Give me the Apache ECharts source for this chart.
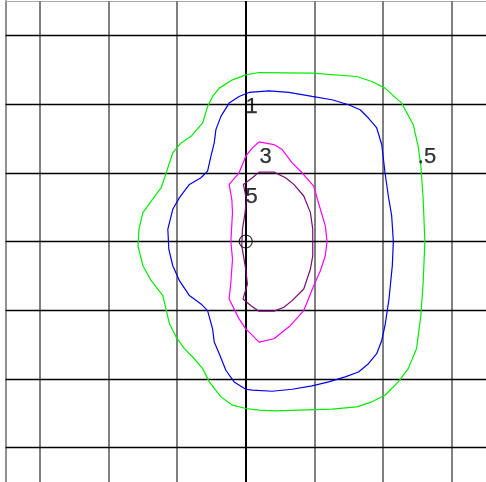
<!DOCTYPE html>
<html>
<head>
<meta charset="utf-8">
<script src="https://cdn.jsdelivr.net/npm/echarts@6/dist/echarts.min.js"></script>
<style>html,body{margin:0;padding:0;background:#fff}#c{width:486px;height:482px}</style>
</head>
<body>
<div id="c"></div>
<script>
// Grid tick positions (one grid cell = 1 unit)
const xTicks = [-3, -2, -1, 1, 2, 3];
const yTicks = [-3, -2, -1, 1, 2, 3];

// Contour levels and their polylines [x, y]
const level05 = [
  [0.193,2.459],[0.966,2.449],[1.618,2.401],[1.836,2.329],[2.029,2.232],[2.271,2.014],[2.440,1.700],
  [2.512,1.386],[2.551,1.097],[2.585,0.614],[2.609,0],[2.585,-0.594],[2.551,-1.077],[2.488,-1.560],
  [2.367,-1.850],[2.222,-2.043],[2.029,-2.237],[1.836,-2.333],[1.618,-2.406],[1.256,-2.440],
  [0.773,-2.454],[0.435,-2.464],[0.193,-2.454],[0,-2.430],[-0.193,-2.382],[-0.362,-2.261],
  [-0.531,-2.043],[-0.628,-1.850],[-0.773,-1.681],[-0.894,-1.560],[-1.014,-1.391],[-1.111,-1.198],
  [-1.208,-0.787],[-1.377,-0.570],[-1.498,-0.353],[-1.570,-0.063],[-1.556,0.179],[-1.498,0.420],
  [-1.377,0.589],[-1.232,0.783],[-1.159,1.000],[-1.063,1.290],[-0.942,1.435],[-0.797,1.531],
  [-0.628,1.725],[-0.556,1.966],[-0.483,2.111],[-0.386,2.232],[-0.193,2.353],[0,2.425],[0.193,2.459]
];
const level1 = [
  [-0.097,2.111],[0.048,2.169],[0.338,2.193],[0.628,2.169],[0.966,2.111],[1.256,2.063],[1.498,1.990],
  [1.667,1.918],[1.787,1.797],[1.908,1.652],[1.981,1.411],[2.029,1.000],[2.077,0.662],[2.126,0.372],
  [2.150,0],[2.135,-0.353],[2.087,-0.836],[2.029,-1.222],[1.981,-1.440],[1.908,-1.633],[1.787,-1.778],
  [1.643,-1.899],[1.449,-1.971],[1.208,-2.043],[0.966,-2.101],[0.676,-2.150],[0.386,-2.179],
  [0.097,-2.164],[0,-2.150],[-0.169,-2.043],[-0.290,-1.874],[-0.386,-1.633],[-0.459,-1.464],
  [-0.483,-1.271],[-0.556,-1.005],[-0.652,-0.908],[-0.821,-0.787],[-0.966,-0.570],[-1.063,-0.353],
  [-1.121,-0.111],[-1.135,0.179],[-1.063,0.469],[-0.966,0.638],[-0.821,0.831],[-0.652,0.928],
  [-0.556,1.024],[-0.507,1.242],[-0.459,1.435],[-0.435,1.628],[-0.362,1.821],[-0.242,2.014],[-0.097,2.111]
];
const level3 = [
  [0.193,1.449],[0.411,1.411],[0.531,1.338],[0.676,1.145],[0.821,1.000],[0.990,0.807],[1.087,0.469],
  [1.159,0.227],[1.184,0],[1.159,-0.208],[1.087,-0.425],[0.990,-0.643],[0.845,-1.005],[0.652,-1.222],
  [0.411,-1.415],[0.193,-1.464],[0.097,-1.367],[0,-1.271],[-0.097,-1.126],[-0.242,-0.836],
  [-0.217,-0.594],[-0.193,-0.256],[-0.217,0],[-0.193,0.420],[-0.203,0.614],[-0.242,0.831],
  [-0.097,1.000],[0,1.242],[0.097,1.362],[0.193,1.449]
];
const level5 = [
  [0.193,1.010],[0.411,1.010],[0.580,0.928],[0.700,0.831],[0.845,0.662],[0.942,0.420],[0.976,0.179],
  [0.976,-0.208],[0.942,-0.401],[0.845,-0.691],[0.676,-0.860],[0.556,-0.957],[0.411,-1.014],
  [0.193,-1.014],[0.072,-0.932],[-0.039,-0.836],[0.024,-0.618],[0,-0.401],[-0.058,-0.063],
  [-0.048,0.179],[-0.010,0.420],[0.010,0.614],[-0.034,0.831],[0.097,0.928],[0.193,1.010]
];

// Contour labels
const labelText = ['1', '3', '5', '.5'];
const labelX = [0.087, 0.29, 0.087, 2.64];
const labelY = [1.957, 1.232, 0.652, 1.232];

const chart = echarts.init(document.getElementById('c'), null, {renderer: 'canvas'});

function contour(data, color) {
  return {type: 'line', data: data, showSymbol: false, symbol: 'none', smooth: false,
    lineStyle: {color: color, width: 1.2}, silent: true, z: 5};
}

const vLines = xTicks.map(v => ({xAxis: v}));
const hLines = yTicks.map(v => ({yAxis: v}));
const labelStyle = {show: true, position: 'inside', fontFamily: 'Arial', fontSize: 22,
  color: '#000000', textBorderColor: '#000000', textBorderWidth: 0.25};

chart.setOption({
  animation: false,
  backgroundColor: '#ffffff',
  grid: {left: 5.5, top: 1, width: 483, height: 483, containLabel: false},
  xAxis: {type: 'value', min: -3.5, max: 3.5, position: 'top',
    axisLine: {show: true, onZero: false, lineStyle: {color: '#a8a8a8', width: 1}},
    axisTick: {show: false}, axisLabel: {show: false}, splitLine: {show: false}},
  yAxis: {type: 'value', min: -3.5, max: 3.5, position: 'left',
    axisLine: {show: true, onZero: false, lineStyle: {color: '#909090', width: 2}},
    axisTick: {show: false}, axisLabel: {show: false}, splitLine: {show: false}},
  series: [
    {type: 'line', data: [], silent: true, z: 1,
      markLine: {silent: true, symbol: ['none', 'none'], label: {show: false},
        lineStyle: {color: '#808080', width: 2, type: 'solid'}, data: vLines}},
    {type: 'line', data: [], silent: true, z: 2,
      markLine: {silent: true, symbol: ['none', 'none'], label: {show: false},
        lineStyle: {color: '#000000', width: 1.3, type: 'solid'}, data: hLines}},
    {type: 'line', data: [], silent: true, z: 3,
      markLine: {silent: true, symbol: ['none', 'none'], label: {show: false},
        data: [
          {xAxis: 0, lineStyle: {color: '#000000', width: 2, type: 'solid'}},
          {yAxis: 0, lineStyle: {color: '#000000', width: 1.3, type: 'solid'}}
        ]}},
    contour(level05, '#00ee00'),
    contour(level1, '#0000ee'),
    contour(level3, '#ff00ff'),
    contour(level5, '#7a0a7a'),
    {type: 'scatter', data: [[0, 0]], symbol: 'circle', symbolSize: 13, silent: true, z: 6,
      itemStyle: {color: 'rgba(0,0,0,0)', borderColor: '#000000', borderWidth: 1.2}},
    {type: 'scatter', silent: true, z: 7, symbolSize: 1,
      itemStyle: {color: 'rgba(0,0,0,0)'},
      data: labelText.map((t, i) => ({value: [labelX[i], labelY[i]],
        label: Object.assign({formatter: t}, labelStyle)})),
      label: labelStyle}
  ]
});
</script>
</body>
</html>
